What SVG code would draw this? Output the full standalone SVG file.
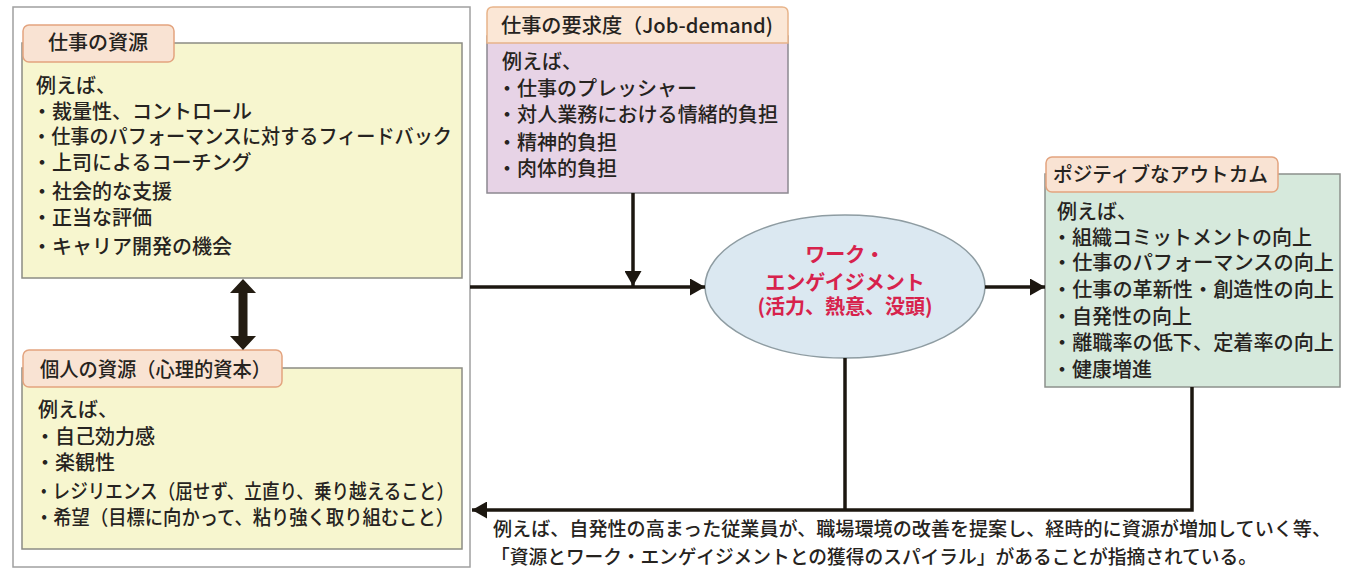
<svg xmlns="http://www.w3.org/2000/svg" width="1360" height="583" viewBox="0 0 1360 583">
<style>
text{font-family:"Noto Sans CJK JP","Noto Sans",sans-serif;font-size:20px;fill:#262320;font-weight:500}
.ybox{fill:#f7f6cf;stroke:#8c8c84;stroke-width:1.5}
.tab{fill:#f9e3d3;stroke:#e3a47f;stroke-width:1.5}
.pbox{fill:#e7d3e6;stroke:#8c8890;stroke-width:1.5}
.gbox{fill:#d6e9dc;stroke:#8c908c;stroke-width:1.5}
.outer{fill:#ffffff;stroke:#a0a0a0;stroke-width:1.5}
.conn{fill:none;stroke:#1c1710;stroke-width:3.5}
.eng{fill:#d7224c;font-size:20px;font-weight:700}
.note{font-size:19px}
</style>
<defs>
<marker id="ah" viewBox="0 0 15 17" refX="15" refY="8.5" markerWidth="15" markerHeight="17" markerUnits="userSpaceOnUse" orient="auto">
<path d="M0,0 L15,8.5 L0,17 z" fill="#1c1710"/>
</marker>
</defs>
<rect width="1360" height="583" fill="#ffffff"/>
<g id="resources-frame">
<rect class="outer" x="13" y="7" width="457" height="560"/>
</g>
<g id="job-resources">
<rect class="ybox" x="22" y="43" width="440" height="235"/>
<rect class="tab" x="23" y="25" width="151" height="37" rx="6"/>
<text x="48" y="50">仕事の資源</text>
<text><tspan x="36" y="93">例えば、</tspan><tspan x="32" y="119">・裁量性、コントロール</tspan><tspan x="32" y="144" textLength="420" lengthAdjust="spacingAndGlyphs">・仕事のパフォーマンスに対するフィードバック</tspan><tspan x="32" y="170">・上司によるコーチング</tspan><tspan x="32" y="199">・社会的な支援</tspan><tspan x="32" y="225">・正当な評価</tspan><tspan x="32" y="254">・キャリア開発の機会</tspan></text>
</g>
<g id="personal-resources">
<rect class="ybox" x="22" y="368" width="440" height="181"/>
<rect class="tab" x="23" y="350" width="259" height="37" rx="6"/>
<text x="40" y="377" textLength="231" lengthAdjust="spacingAndGlyphs">個人の資源（心理的資本）</text>
<text><tspan x="38" y="417">例えば、</tspan><tspan x="35" y="444">・自己効力感</tspan><tspan x="35" y="470">・楽観性</tspan><tspan x="35" y="499" textLength="419" lengthAdjust="spacingAndGlyphs">・レジリエンス（屈せず、立直り、乗り越えること）</tspan><tspan x="35" y="525" textLength="419" lengthAdjust="spacingAndGlyphs">・希望（目標に向かって、粘り強く取り組むこと）</tspan></text>
</g>
<g id="job-demand">
<rect class="pbox" x="487" y="36" width="301" height="157"/>
<path class="tab" d="M487,43 V13 Q487,7 493,7 H782 Q788,7 788,13 V43 Z" style="fill:#fbe7d6;stroke:#e8b48a"/>
<text x="501" y="33" textLength="272" lengthAdjust="spacingAndGlyphs">仕事の要求度（Job-demand)</text>
<text><tspan x="502" y="69">例えば、</tspan><tspan x="497" y="96">・仕事のプレッシャー</tspan><tspan x="497" y="122" textLength="281" lengthAdjust="spacingAndGlyphs">・対人業務における情緒的負担</tspan><tspan x="497" y="150">・精神的負担</tspan><tspan x="497" y="176">・肉体的負担</tspan></text>
</g>
<g id="work-engagement">
<ellipse cx="845" cy="286.5" rx="140" ry="71.5" fill="#dbe8f1" stroke="#8e9ca2" stroke-width="1.5"/>
<text class="eng" text-anchor="middle"><tspan x="845" y="262">ワーク・</tspan><tspan x="845" y="290">エンゲイジメント</tspan><tspan x="845" y="314">(活力、熱意、没頭)</tspan></text>
</g>
<g id="positive-outcome">
<rect class="gbox" x="1045" y="174" width="295" height="213"/>
<rect class="tab" x="1046" y="157" width="232" height="35" rx="6"/>
<text x="1053" y="182" textLength="215" lengthAdjust="spacingAndGlyphs">ポジティブなアウトカム</text>
<text><tspan x="1057" y="219">例えば、</tspan><tspan x="1052" y="245">・組織コミットメントの向上</tspan><tspan x="1052" y="270" textLength="282" lengthAdjust="spacingAndGlyphs">・仕事のパフォーマンスの向上</tspan><tspan x="1052" y="297" textLength="282" lengthAdjust="spacingAndGlyphs">・仕事の革新性・創造性の向上</tspan><tspan x="1052" y="324">・自発性の向上</tspan><tspan x="1052" y="350" textLength="282" lengthAdjust="spacingAndGlyphs">・離職率の低下、定着率の向上</tspan><tspan x="1052" y="377">・健康増進</tspan></text>
</g>
<g id="connectors">
<line class="conn" x1="470" y1="287" x2="705" y2="287" marker-end="url(#ah)"/>
<line class="conn" x1="633" y1="193" x2="633" y2="286" marker-end="url(#ah)"/>
<line class="conn" x1="985" y1="287" x2="1045" y2="287" marker-end="url(#ah)"/>
<line class="conn" x1="845" y1="358" x2="845" y2="510"/>
<path class="conn" d="M1192,387 V510 H472" marker-end="url(#ah)"/>
<polygon points="243,279 230,293 238.5,293 238.5,336 230,336 243,350 256,336 247.5,336 247.5,293 256,293" fill="#231c12"/>
</g>
<g id="spiral-note">
<text class="note"><tspan x="493" y="536" textLength="838" lengthAdjust="spacingAndGlyphs">例えば、自発性の高まった従業員が、職場環境の改善を提案し、経時的に資源が増加していく等、</tspan><tspan x="491" y="564" textLength="766" lengthAdjust="spacingAndGlyphs">「資源とワーク・エンゲイジメントとの獲得のスパイラル」があることが指摘されている。</tspan></text>
</g>
</svg>
